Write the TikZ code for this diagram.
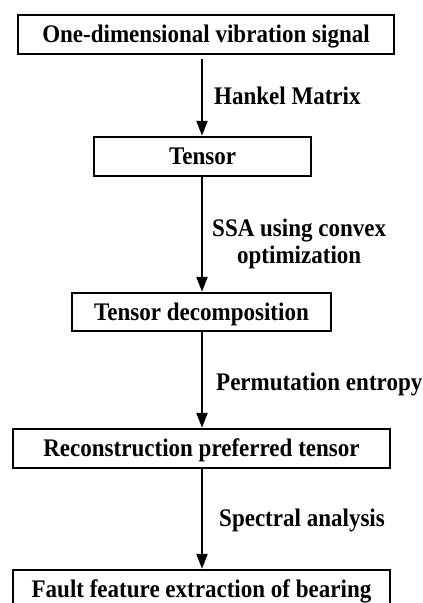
\documentclass[tikz,border=0pt]{standalone}
\usepackage{fontspec}
\setmainfont{Liberation Serif}[FakeStretch=0.91]
\usetikzlibrary{arrows.meta}
\begin{document}
\begin{tikzpicture}[x=1pt,y=1pt,
  box/.style={draw, line width=2.4pt, inner sep=0pt, text height=16.7pt, text depth=0pt,
    font=\fontsize{25.3}{27}\selectfont\bfseries},
  lbl/.style={inner sep=0pt, font=\fontsize{25.3}{27}\selectfont\bfseries},
  arr/.style={line width=2.2pt, -{Triangle[length=15pt,width=11pt]}}]
\useasboundingbox (0,0) rectangle (423,-603);
\clip (0,0) rectangle (423,-603);
\coordinate (ax) at (202,0);
\node[box, minimum width=376pt, minimum height=39pt] (b1) at (206,-34.5) {One-dimensional vibration signal};
\node[box, minimum width=217pt, minimum height=39pt] (b2) at (202.5,-156.5) {Tensor};
\node[box, minimum width=259pt, minimum height=38pt] (b3) at (201.5,-312) {Tensor decomposition};
\node[box, minimum width=377pt, minimum height=39pt] (b4) at (201.5,-448.5) {Reconstruction preferred tensor};
\node[box, minimum width=377pt, minimum height=39pt] (b5) at (201.5,-589.5) {Fault feature extraction of bearing};
\draw[arr] ([yshift=-4pt]b1.south -| ax) -- (b2.north -| ax);
\draw[arr] (b2.south -| ax) -- (b3.north -| ax);
\draw[arr] (b3.south -| ax) -- (b4.north -| ax);
\draw[arr] (b4.south -| ax) -- (b5.north -| ax);
\node[lbl, anchor=west, text height=16.7pt, text depth=0pt] (l1) at (214,-96.5) {Hankel Matrix};
\node[lbl, anchor=north west, align=center] (l2) at (212,-219) {SSA using convex\\optimization};
\node[lbl, anchor=west, text height=16.7pt, text depth=0pt] (l3) at (216,-382) {Permutation entropy};
\node[lbl, anchor=west, text height=16.7pt, text depth=0pt] (l4) at (219,-518) {Spectral analysis};
\end{tikzpicture}
\end{document}
